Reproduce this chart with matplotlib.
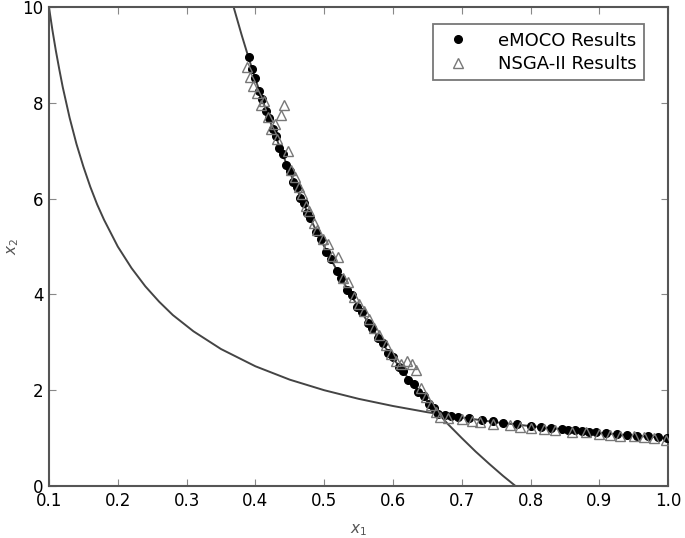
import matplotlib
matplotlib.use("Agg")
import matplotlib.pyplot as plt

# Curve 1 (lower boundary)
c1_x = [0.10, 0.105, 0.11, 0.115, 0.12, 0.13, 0.14, 0.15, 0.16, 0.17, 0.18, 0.20, 0.22, 0.24, 0.26, 0.28,
        0.31, 0.35, 0.40, 0.45, 0.50, 0.55, 0.60, 0.65, 0.70, 0.75, 0.80, 0.85, 0.90, 0.95, 1.00]
c1_y = [10.0, 9.52, 9.09, 8.70, 8.33, 7.69, 7.14, 6.67, 6.25, 5.88, 5.56, 5.00, 4.55, 4.17, 3.85, 3.57,
        3.23, 2.86, 2.50, 2.22, 2.00, 1.82, 1.67, 1.54, 1.43, 1.33, 1.25, 1.18, 1.11, 1.05, 1.00]

# Curve 2 (steep boundary)
c2_x = [0.368, 0.375, 0.38, 0.39, 0.40, 0.41, 0.42, 0.435, 0.45, 0.465, 0.48, 0.495, 0.51, 0.525, 0.54,
        0.56, 0.58, 0.60, 0.62, 0.64, 0.66, 0.68, 0.70, 0.72, 0.74, 0.76, 0.778]
c2_y = [10.02, 9.67, 9.42, 8.95, 8.50, 8.07, 7.67, 7.09, 6.56, 6.05, 5.58, 5.14, 4.73, 4.33, 3.96,
        3.50, 3.07, 2.67, 2.29, 1.94, 1.61, 1.29, 1.00, 0.72, 0.46, 0.21, 0.00]

# eMOCO results
emoco_x = [0.390, 0.395, 0.400, 0.405, 0.410, 0.415, 0.420, 0.425, 0.430, 0.435, 0.440, 0.445, 0.450,
           0.455, 0.460, 0.465, 0.470, 0.475, 0.480, 0.488, 0.495, 0.503, 0.510, 0.518, 0.525, 0.533,
           0.540, 0.548, 0.555, 0.563, 0.570, 0.578, 0.585, 0.593, 0.600, 0.608, 0.615, 0.622, 0.630,
           0.637, 0.645, 0.652, 0.660, 0.666, 0.675, 0.685, 0.695, 0.710, 0.730, 0.745, 0.760, 0.780,
           0.800, 0.815, 0.830, 0.845, 0.855, 0.865, 0.875, 0.885, 0.895, 0.910, 0.925, 0.940, 0.955,
           0.970, 0.985, 0.998]
emoco_y = [8.95, 8.70, 8.52, 8.25, 8.09, 7.84, 7.68, 7.45, 7.30, 7.06, 6.93, 6.70, 6.58,
           6.35, 6.24, 6.02, 5.91, 5.71, 5.60, 5.31, 5.16, 4.89, 4.75, 4.48, 4.35, 4.10,
           3.98, 3.74, 3.63, 3.40, 3.30, 3.08, 2.99, 2.77, 2.69, 2.48, 2.40, 2.22, 2.13,
           1.96, 1.87, 1.71, 1.62, 1.50, 1.49, 1.47, 1.44, 1.41, 1.38, 1.35, 1.32, 1.29,
           1.25, 1.23, 1.21, 1.19, 1.17, 1.16, 1.15, 1.13, 1.12, 1.10, 1.08, 1.07, 1.05,
           1.04, 1.02, 1.00]

# NSGA-II results
nsga_x = [0.388, 0.392, 0.397, 0.402, 0.408, 0.412, 0.418, 0.423, 0.428, 0.432, 0.437, 0.442, 0.447,
          0.452, 0.458, 0.463, 0.468, 0.473, 0.478, 0.485, 0.490, 0.498, 0.505, 0.512, 0.520, 0.527,
          0.535, 0.543, 0.550, 0.558, 0.565, 0.572, 0.580, 0.590, 0.597, 0.605, 0.612, 0.620, 0.628,
          0.633, 0.640, 0.648, 0.655, 0.662, 0.668, 0.680, 0.700, 0.715, 0.727, 0.745, 0.770, 0.785,
          0.800, 0.820, 0.835, 0.860, 0.880, 0.900, 0.915, 0.930, 0.950, 0.965, 0.980, 0.997]
nsga_y = [8.75, 8.55, 8.35, 8.20, 7.95, 8.05, 7.70, 7.45, 7.55, 7.25, 7.75, 7.95, 7.00,
          6.60, 6.45, 6.25, 6.10, 5.85, 5.75, 5.50, 5.35, 5.15, 5.05, 4.80, 4.78, 4.35,
          4.25, 3.95, 3.80, 3.65, 3.48, 3.30, 3.15, 2.95, 2.75, 2.60, 2.55, 2.62, 2.55,
          2.42, 2.05, 1.85, 1.70, 1.55, 1.45, 1.42, 1.40, 1.36, 1.34, 1.30, 1.27, 1.23,
          1.22, 1.19, 1.16, 1.13, 1.12, 1.09, 1.07, 1.05, 1.04, 1.02, 1.00, 0.97]

x_ticks = [0.1, 0.2, 0.3, 0.4, 0.5, 0.6, 0.7, 0.8, 0.9, 1.0]
y_ticks = [0, 2, 4, 6, 8, 10]

fig = plt.figure(figsize=(6.85, 5.38), dpi=100)
ax = fig.add_axes([0.0715, 0.0967, 0.904, 0.890])

line_col = "#444444"
ax.plot(c1_x, c1_y, color=line_col, lw=1.4, zorder=2)
ax.plot(c2_x, c2_y, color=line_col, lw=1.4, zorder=2)

ax.plot(emoco_x, emoco_y, linestyle="none", marker="o", markersize=5.5,
        color="black", markeredgecolor="black", label="eMOCO Results", zorder=3)
ax.plot(nsga_x, nsga_y, linestyle="none", marker="^", markersize=7.5,
        markerfacecolor="none", markeredgecolor="#777777", markeredgewidth=1.0,
        label="NSGA-II Results", zorder=4)

ax.set_xlim(0.1, 1.0)
ax.set_ylim(0, 10)
ax.set_xticks(x_ticks)
ax.set_xticklabels([f"{t:.1f}" for t in x_ticks])
ax.set_yticks(y_ticks)
ax.tick_params(direction="in", top=True, right=True, length=5, width=0.8,
               color="#888888", labelsize=12, pad=4)
for sp in ax.spines.values():
    sp.set_linewidth(1.5)
    sp.set_color("#555555")

ax.set_xlabel("$x_1$", fontsize=11, color="#555555")
ax.set_ylabel("$x_2$", fontsize=11, color="#555555")
ax.xaxis.set_label_coords(0.5, -0.075)
ax.yaxis.set_label_coords(-0.045, 0.5)

leg = ax.legend(loc="upper right", bbox_to_anchor=(0.975, 0.983), fontsize=13,
                frameon=True, fancybox=False, numpoints=1, handletextpad=1.2,
                borderpad=0.4, labelspacing=0.3)
leg.get_frame().set_edgecolor("#555555")
leg.get_frame().set_linewidth(1.3)

fig.savefig("out.png", dpi=100)
